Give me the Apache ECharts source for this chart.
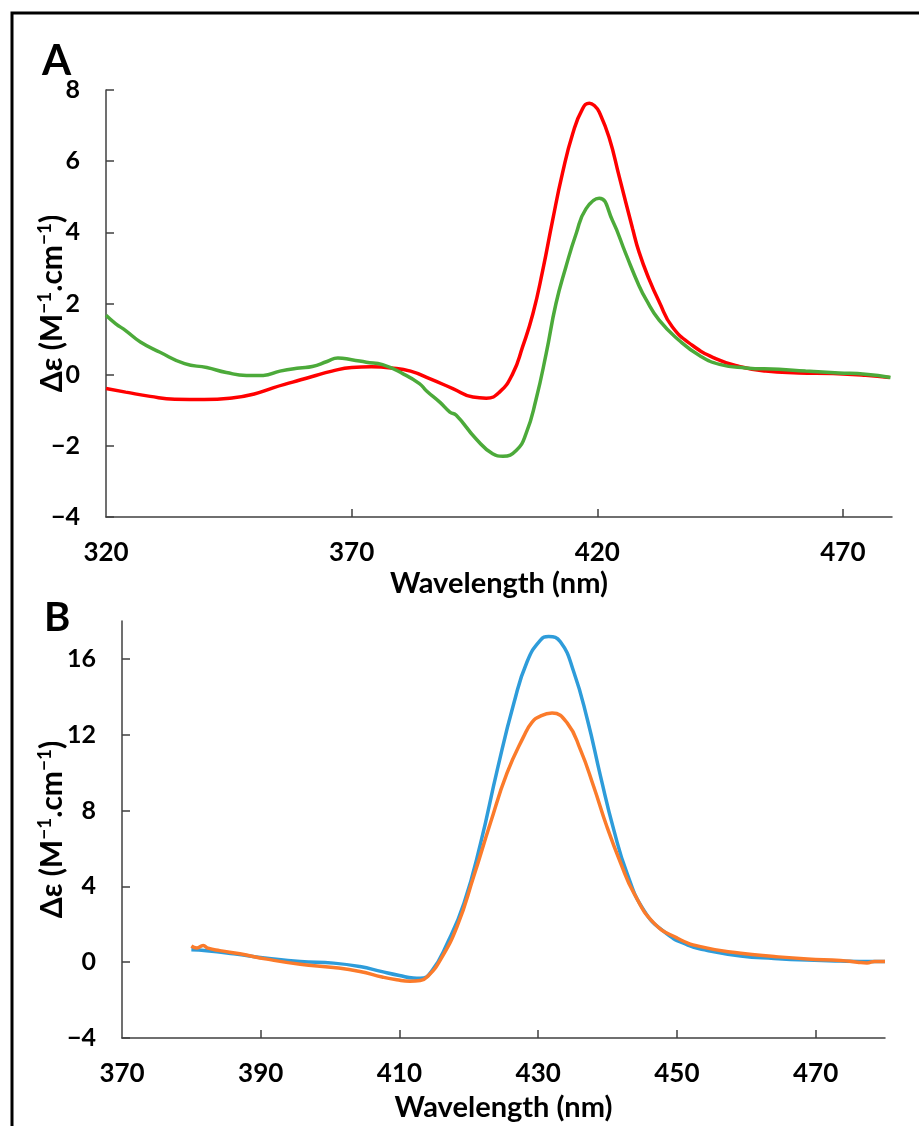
<!DOCTYPE html>
<html>
<head>
<meta charset="utf-8">
<title>CD spectra</title>
<script src="https://cdn.jsdelivr.net/npm/echarts@6/dist/echarts.min.js"></script>
<style>
    * {
        margin: 0;
        padding: 0;
    }
    html, body {
        background: #fff;
    }
    #main {
        width: 919px;
        height: 1126px;
    }
</style>
</head>
<body>
<div id="main"></div>
<script>
    // panel A - red
    var redWl = [320, 324, 329, 334, 340, 346, 350, 354, 358, 362, 366, 370, 374, 378, 382, 386, 390.6, 394.7, 397.4,
        400.1, 402.8, 404.8, 406.9, 408.9, 410.9, 412.9, 415, 417, 418.4, 419.5, 420.4, 422.4, 424.5, 427.2, 428.5,
        430.5, 432.6, 435.3, 439.4, 444.1, 448.9, 454.3, 461, 468, 474.6, 479.5];
    var redDe = [-0.39, -0.49, -0.61, -0.69, -0.7, -0.65, -0.55, -0.37, -0.21, -0.05, 0.1, 0.2, 0.22, 0.19, 0.1, -0.12, -0.39, -0.63, -0.66,
        -0.49, 0.03, 0.78, 1.71, 2.93, 4.33, 5.65, 6.77, 7.47, 7.63, 7.55, 7.38, 6.67, 5.55, 4.1, 3.45,
        2.7, 2.05, 1.34, 0.82, 0.45, 0.23, 0.1, 0.05, 0.03, -0.02, -0.08];

    // panel A - green
    var greenWl = [320, 322, 324, 327, 331, 336, 340.5, 344.5, 348.6, 352, 355.4, 359.4, 362, 365, 367.2, 370, 373, 376.3,
        380.4, 383.8, 385.2, 388, 390, 391.3, 395.3, 398.7, 400.8, 403.5, 405.5, 407.5, 409.6, 411.6, 413.6, 415.7,
        417.7, 420.4, 423.1, 425.8, 428.5, 429.9, 432.6, 436.7, 440.8, 444.9, 450.2, 457, 462.4, 469.2, 474.6, 479.7];
    var greenDe = [1.67, 1.43, 1.24, 0.92, 0.63, 0.31, 0.2, 0.06, -0.02, -0.02, 0.1, 0.19, 0.23, 0.37, 0.47, 0.42, 0.35, 0.28,
        0.03, -0.25, -0.45, -0.78, -1.05, -1.14, -1.8, -2.22, -2.29, -2.13, -1.66, -0.72, 0.59, 2.0, 3.02, 3.96,
        4.66, 4.96, 4.33, 3.4, 2.5, 2.12, 1.53, 0.96, 0.54, 0.29, 0.19, 0.15, 0.1, 0.05, 0.01, -0.08];

    // panel B - blue
    var blueWl = [380, 382.2, 386.1, 390.9, 395.7, 400.5, 404.3, 407.5, 410, 412, 413, 414.6, 416.9, 419.3, 421.7, 424.1,
        426.5, 428.4, 430.3, 431.5, 433.2, 435.1, 437.1, 439, 440.9, 442.8, 445.2, 448.1, 451.5, 454.4, 459.2, 464,
        468.8, 473.6, 478.4, 480];
    var blueDe = [0.65, 0.6, 0.44, 0.21, 0.03, -0.05, -0.23, -0.5, -0.7, -0.84, -0.85, -0.5, 1.0, 3.11, 6.28, 10.15,
        13.67, 15.85, 16.98, 17.18, 16.9, 15.35, 12.79, 9.79, 6.98, 4.7, 2.76, 1.62, 0.91, 0.62, 0.33, 0.2,
        0.11, 0.06, 0.04, 0.04];

    // panel B - orange
    var orangeWl = [380, 380.8, 381.7, 382.4, 384.1, 387, 390.9, 395.7, 400.5, 404.3, 407.5, 409.6, 411.5, 413, 414.2, 415.9,
        418.3, 420.7, 423.1, 425.5, 427.9, 429.1, 430.3, 432, 434.2, 436.1, 438, 439.9, 441.9, 443.8, 446.7, 450, 453.4,
        459.2, 464, 468.8, 473.6, 476, 477.4, 478.5, 480];
    var orangeDe = [0.85, 0.75, 0.88, 0.74, 0.61, 0.44, 0.16, -0.11, -0.28, -0.49, -0.78, -0.93, -1.01, -0.97, -0.7, 0.12,
        1.88, 4.52, 7.33, 9.97, 11.9, 12.65, 12.98, 13.14, 12.61, 11.2, 9.27, 7.16, 5.22, 3.64, 2.06, 1.28, 0.82,
        0.47, 0.3, 0.17, 0.09, 0.0, -0.04, 0.04, 0.03];

    // tick labels
    var ticksAx = [320, 370, 420, 470];
    var ticksAy = [-4, -2, 0, 2, 4, 6, 8];
    var ticksBx = [370, 390, 410, 430, 450, 470];
    var ticksBy = [-4, 0, 4, 8, 12, 16];

    function pairs(xs, ys) {
        return xs.map(function (x, i) { return [x, ys[i]]; });
    }

    var FONT = 'Lato';
    var axisColor = '#404040';
    var minus = function (v) { return String(v).replace('-', '\u2212'); };

    function xAxisOf(gridIndex, min, max, labels, gap) {
        return {
            type: 'value',
            gridIndex: gridIndex,
            min: min,
            max: max,
            name: 'Wavelength (nm)',
            nameLocation: 'middle',
            nameGap: gap,
            nameMoveOverlap: false,
            nameTextStyle: { fontFamily: FONT, fontWeight: 'bold', fontSize: 29, color: '#000' },
            axisLine: { onZero: false, lineStyle: { color: axisColor, width: 1.5 } },
            axisTick: { inside: true, length: 8, lineStyle: { color: axisColor, width: 1.5 },
                customValues: labels.slice(1) },
            axisLabel: { customValues: labels, margin: 23, fontFamily: FONT, fontWeight: 'bold',
                fontSize: 26, color: '#000' },
            splitLine: { show: false }
        };
    }

    // y title with raised superscripts
    var yTitle = '{n|\u0394\u03b5 (M}{s|\u22121}{n|.cm}{s|\u22121}{n|)}';

    function yAxisOf(gridIndex, min, max, labels, gap) {
        return {
            type: 'value',
            gridIndex: gridIndex,
            min: min,
            max: max,
            name: yTitle,
            nameLocation: 'middle',
            nameGap: gap,
            nameRotate: 90,
            nameMoveOverlap: false,
            nameTextStyle: {
                fontFamily: FONT, fontWeight: 'bold', fontSize: 30, color: '#000',
                rich: {
                    n: { fontFamily: FONT, fontWeight: 'bold', fontSize: 30, color: '#000', lineHeight: 34 },
                    s: { fontFamily: FONT, fontWeight: 'bold', fontSize: 19, color: '#000', verticalAlign: 'top', lineHeight: 34 }
                }
            },
            axisLine: { onZero: false, lineStyle: { color: axisColor, width: 1.5 } },
            axisTick: { inside: true, length: 8, lineStyle: { color: axisColor, width: 1.5 },
                customValues: labels },
            axisLabel: { customValues: labels, margin: 26, formatter: minus, fontFamily: FONT,
                fontWeight: 'bold', fontSize: 25, color: '#000' },
            splitLine: { show: false }
        };
    }

    function line(name, xi, data, color) {
        return {
            name: name,
            type: 'line',
            xAxisIndex: xi,
            yAxisIndex: xi,
            data: data,
            smooth: 0.5,
            showSymbol: false,
            lineStyle: { color: color, width: 3.5 },
            itemStyle: { color: color }
        };
    }

    var chart = echarts.init(document.getElementById('main'));
    var option = {
        animation: false,
        backgroundColor: '#fff',
        grid: [
            { left: 106, top: 90, width: 786, height: 427 },
            { left: 122, top: 621, width: 763, height: 417 }
        ],
        xAxis: [
            xAxisOf(0, 320, 480, ticksAx, 52),
            xAxisOf(1, 370, 480, ticksBx, 55)
        ],
        yAxis: [
            yAxisOf(0, -4, 8, ticksAy, 37),
            yAxisOf(1, -4, 18, ticksBy, 53)
        ],
        graphic: [
            { type: 'rect', shape: { x: 12, y: 13, width: 1000, height: 1200 },
                style: { fill: 'none', stroke: '#000', lineWidth: 3 } },
            { type: 'text', x: 42, y: 40, style: { text: 'A', font: 'bold 42px Lato', fill: '#000' } },
            { type: 'text', x: 44, y: 598, style: { text: 'B', font: 'bold 40px Lato', fill: '#000' } }
        ],
        series: [
            line('red', 0, pairs(redWl, redDe), '#ff0000'),
            line('green', 0, pairs(greenWl, greenDe), '#4caa3a'),
            line('blue', 1, pairs(blueWl, blueDe), '#2e9cda'),
            line('orange', 1, pairs(orangeWl, orangeDe), '#fb7b2b')
        ]
    };
    chart.setOption(option);
</script>
</body>
</html>
